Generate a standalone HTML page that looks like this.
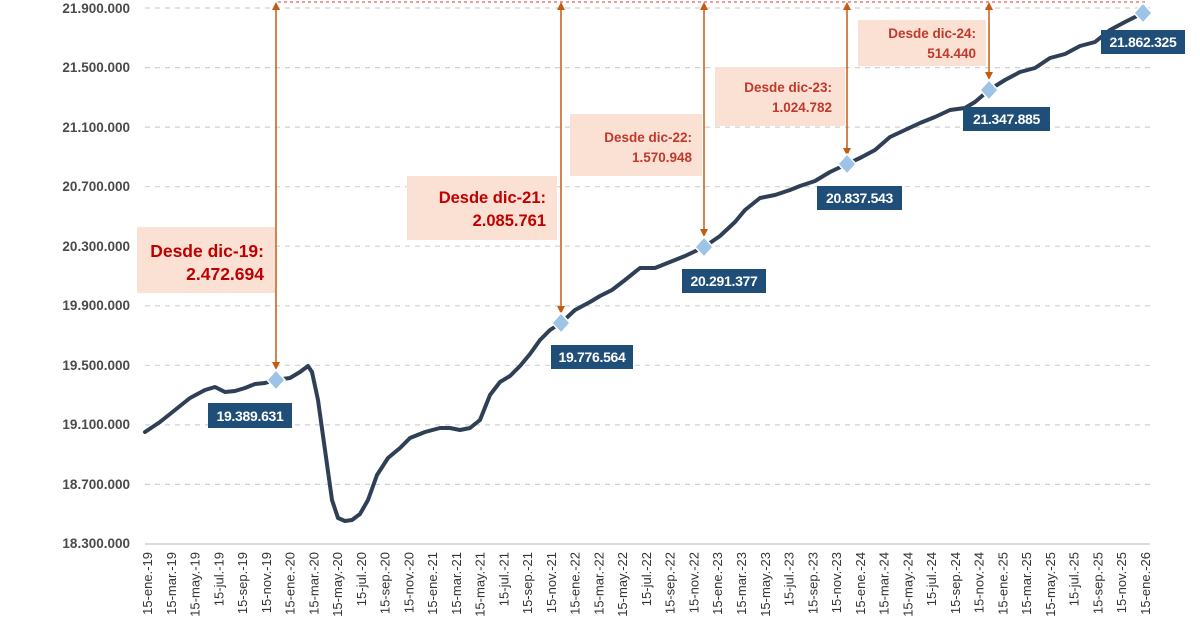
<!DOCTYPE html>
<html><head><meta charset="utf-8"><style>
html,body{margin:0;padding:0;background:#fff;}
svg{display:block;font-family:"Liberation Sans",sans-serif;}
</style></head><body>
<svg width="1200" height="628" viewBox="0 0 1200 628">
<defs>
<marker id="ah" markerWidth="8" markerHeight="8" refX="4" refY="4" orient="auto-start-reverse" markerUnits="userSpaceOnUse"><path d="M0,0 L8,4 L0,8 Z" fill="#c55a11"/></marker>
</defs>
<g stroke="#d0d0d0" stroke-width="1.2" stroke-dasharray="5,5">
<line x1="145" y1="8" x2="1150" y2="8"/><line x1="145" y1="67.6" x2="1150" y2="67.6"/><line x1="145" y1="127.1" x2="1150" y2="127.1"/><line x1="145" y1="186.7" x2="1150" y2="186.7"/><line x1="145" y1="246.2" x2="1150" y2="246.2"/><line x1="145" y1="305.8" x2="1150" y2="305.8"/><line x1="145" y1="365.3" x2="1150" y2="365.3"/><line x1="145" y1="424.9" x2="1150" y2="424.9"/><line x1="145" y1="484.4" x2="1150" y2="484.4"/>
</g>
<line x1="145" y1="544" x2="1150" y2="544" stroke="#d0d0d0" stroke-width="1.5"/>
<line x1="278" y1="2" x2="1145" y2="2" stroke="#e06060" stroke-width="1.2" stroke-dasharray="3,3"/>
<g fill="#4a4a4a" font-size="13.5" font-weight="bold" text-anchor="end">
<text x="130" y="13">21.900.000</text><text x="130" y="72">21.500.000</text><text x="130" y="132">21.100.000</text><text x="130" y="191">20.700.000</text><text x="130" y="251">20.300.000</text><text x="130" y="310">19.900.000</text><text x="130" y="370">19.500.000</text><text x="130" y="429">19.100.000</text><text x="130" y="489">18.700.000</text><text x="130" y="548">18.300.000</text>
</g>
<g fill="#333" font-size="13" text-anchor="end">
<text transform="translate(152,552) rotate(-90)">15-ene.-19</text><text transform="translate(175.8,552) rotate(-90)">15-mar.-19</text><text transform="translate(199.5,552) rotate(-90)">15-may.-19</text><text transform="translate(223.3,552) rotate(-90)">15-jul.-19</text><text transform="translate(247,552) rotate(-90)">15-sep.-19</text><text transform="translate(270.8,552) rotate(-90)">15-nov.-19</text><text transform="translate(294.6,552) rotate(-90)">15-ene.-20</text><text transform="translate(318.3,552) rotate(-90)">15-mar.-20</text><text transform="translate(342.1,552) rotate(-90)">15-may.-20</text><text transform="translate(365.8,552) rotate(-90)">15-jul.-20</text><text transform="translate(389.6,552) rotate(-90)">15-sep.-20</text><text transform="translate(413.4,552) rotate(-90)">15-nov.-20</text><text transform="translate(437.1,552) rotate(-90)">15-ene.-21</text><text transform="translate(460.9,552) rotate(-90)">15-mar.-21</text><text transform="translate(484.6,552) rotate(-90)">15-may.-21</text><text transform="translate(508.4,552) rotate(-90)">15-jul.-21</text><text transform="translate(532.2,552) rotate(-90)">15-sep.-21</text><text transform="translate(555.9,552) rotate(-90)">15-nov.-21</text><text transform="translate(579.7,552) rotate(-90)">15-ene.-22</text><text transform="translate(603.4,552) rotate(-90)">15-mar.-22</text><text transform="translate(627.2,552) rotate(-90)">15-may.-22</text><text transform="translate(651,552) rotate(-90)">15-jul.-22</text><text transform="translate(674.7,552) rotate(-90)">15-sep.-22</text><text transform="translate(698.5,552) rotate(-90)">15-nov.-22</text><text transform="translate(722.2,552) rotate(-90)">15-ene.-23</text><text transform="translate(746,552) rotate(-90)">15-mar.-23</text><text transform="translate(769.8,552) rotate(-90)">15-may.-23</text><text transform="translate(793.5,552) rotate(-90)">15-jul.-23</text><text transform="translate(817.3,552) rotate(-90)">15-sep.-23</text><text transform="translate(841,552) rotate(-90)">15-nov.-23</text><text transform="translate(864.8,552) rotate(-90)">15-ene.-24</text><text transform="translate(888.6,552) rotate(-90)">15-mar.-24</text><text transform="translate(912.3,552) rotate(-90)">15-may.-24</text><text transform="translate(936.1,552) rotate(-90)">15-jul.-24</text><text transform="translate(959.8,552) rotate(-90)">15-sep.-24</text><text transform="translate(983.6,552) rotate(-90)">15-nov.-24</text><text transform="translate(1007.4,552) rotate(-90)">15-ene.-25</text><text transform="translate(1031.1,552) rotate(-90)">15-mar.-25</text><text transform="translate(1054.9,552) rotate(-90)">15-may.-25</text><text transform="translate(1078.6,552) rotate(-90)">15-jul.-25</text><text transform="translate(1102.4,552) rotate(-90)">15-sep.-25</text><text transform="translate(1126.2,552) rotate(-90)">15-nov.-25</text><text transform="translate(1150,552) rotate(-90)">15-ene.-26</text>
</g>
<g fill="#fbe0d4">
<rect x="137" y="227" width="138" height="66"/><rect x="407" y="176" width="150" height="64"/><rect x="570" y="114" width="132" height="62"/><rect x="715" y="67" width="130" height="59"/><rect x="858" y="20" width="128" height="46"/>
</g>
<g fill="#c00000" font-weight="bold" text-anchor="end">
<text x="264" y="257" font-size="17.5">Desde dic-19:</text><text x="264" y="280" font-size="17.5">2.472.694</text>
<text x="546" y="203" font-size="16.5">Desde dic-21:</text><text x="546" y="226" font-size="16.5">2.085.761</text>
<text x="692" y="142" font-size="13.5" fill="#c0392b">Desde dic-22:</text><text x="692" y="162" font-size="13.5" fill="#c0392b">1.570.948</text>
<text x="832" y="92" font-size="13.5" fill="#c0392b">Desde dic-23:</text><text x="832" y="112" font-size="13.5" fill="#c0392b">1.024.782</text>
<text x="976" y="38" font-size="13.5" fill="#c0392b">Desde dic-24:</text><text x="976" y="58" font-size="13.5" fill="#c0392b">514.440</text>
</g>
<g stroke="#c55a11" stroke-width="1.5" marker-start="url(#ah)" marker-end="url(#ah)">
<line x1="276" y1="6" x2="276" y2="366"/><line x1="561" y1="6" x2="561" y2="310"/><line x1="704" y1="6" x2="704" y2="233"/><line x1="847" y1="6" x2="847" y2="152"/><line x1="989" y1="6" x2="989" y2="76"/>
</g>
<polyline fill="none" stroke="#2f3f55" stroke-width="4" stroke-linejoin="round" stroke-linecap="round" points="145,432 160,422 175,410 190,398 205,390 215,387 225,392 235,391 245,388 255,384 265,383 275,380 290,378 300,372 308,366 312,372 318,400 325,450 332,500 338,518 345,521 352,520 360,514 368,500 377,475 388,458 400,448 410,438 425,432 440,428 450,428 460,430 470,428 480,420 490,395 500,382 510,376 520,366 530,354 540,340 550,330 561,323 575,310 590,302 600,296 612,290 625,280 640,268 655,268 670,262 685,256 704,247 720,236 735,222 745,210 760,198 775,195 790,190 800,186 815,181 830,172 847,164 860,158 875,150 890,137 905,130 920,123 935,117 950,110 965,108 975,102 989,90 1005,80 1020,72 1035,68 1050,58 1065,54 1080,46 1095,42 1110,30 1125,22 1143,13"/>
<g fill="#9dc3e6" stroke="#fff" stroke-width="1.5">
<path d="M276,370 l9,10 l-9,10 l-9,-10z"/><path d="M561,313 l9,10 l-9,10 l-9,-10z"/><path d="M704,237 l9,10 l-9,10 l-9,-10z"/><path d="M847,154 l9,10 l-9,10 l-9,-10z"/><path d="M989,80 l9,10 l-9,10 l-9,-10z"/><path d="M1143,3 l9,10 l-9,10 l-9,-10z"/>
</g>
<g fill="#1f4e79">
<rect x="208" y="403" width="84" height="25"/><rect x="551" y="345" width="82" height="24"/><rect x="682" y="269" width="84" height="24"/><rect x="817" y="186" width="85" height="24"/><rect x="963" y="107" width="87" height="24"/><rect x="1101" y="30" width="84" height="24"/>
</g>
<g fill="#fff" font-size="14" font-weight="bold" text-anchor="middle" letter-spacing="-0.3">
<text x="250" y="421">19.389.631</text><text x="592" y="362">19.776.564</text><text x="724" y="286">20.291.377</text><text x="859.5" y="203">20.837.543</text><text x="1006.5" y="124">21.347.885</text><text x="1143" y="47">21.862.325</text>
</g>
</svg>
</body></html>
